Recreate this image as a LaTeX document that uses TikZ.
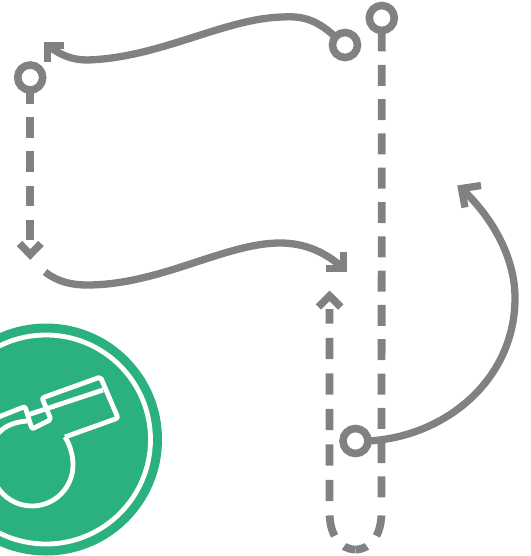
\documentclass[tikz,border=0pt]{standalone}
\definecolor{linegrey}{HTML}{808183}
\definecolor{badge}{HTML}{2BB07F}
\tikzset{
  x=1pt,y=-1pt,
  ringnode/.style={circle,draw=linegrey,line width=7.6pt,minimum size=25pt,inner sep=0pt,outer sep=0pt},
  solidline/.style={draw=linegrey,line width=7.3pt},
  dashline/.style={draw=linegrey,line width=7.8pt},
  headline/.style={draw=linegrey,line width=7.3pt,miter limit=10},
  chevron/.style={draw=linegrey,line width=7.5pt,miter limit=10},
  whistleline/.style={draw=white,line width=4.8pt,line join=round}
}
\begin{document}
\begin{tikzpicture}
\useasboundingbox (0,0) rectangle (530,556);
\clip (0,0) rectangle (530,556);
% badge
\fill[badge] (46,439.5) circle[radius=116];
\draw[white,line width=4.8pt] (46,439.5) circle[radius=104.5];
% whistle
\draw[whistleline,rounded corners=2pt] (-4,418) -- (25,406.5) -- (32,429) -- (51,419.5) -- (42,398) -- (100.5,377) -- (118,418) -- (65,437);
\draw[whistleline] (65,437) .. controls (70,445) and (73,455) .. (73,465)
  arc[start angle=0,end angle=150,radius=41] ;
\draw[whistleline] (-4,436) .. controls (3,427) and (12,422) .. (28,421);
\draw[whistleline] (29,414.5) -- (103,390);
% rings
\node[ringnode] (topright) at (381.8,18) {};
\node[ringnode] (secondring) at (345,45) {};
\node[ringnode] (leftring) at (30.2,77.5) {};
\node[ringnode] (lowring) at (355.5,441) {};
% dashed lines
\coordinate (rightend) at (381.5,498);
\coordinate (leftdown) at (30.2,240);
\coordinate (uptop) at (329.5,309);
\coordinate (lstart) at (329.5,512);
\coordinate (rstart) at (381.5,512);
\coordinate (ubottom) at (355.5,549.5);
\draw[dashline,dash pattern=on 21pt off 13.3pt] (topright.south) -- (rightend);
\draw[dashline,dash pattern=on 20.6pt off 13.4pt,dash phase=6.5pt] (leftring.south) -- (leftdown);
\draw[dashline,dash pattern=on 21.2pt off 14.3pt,dash phase=9.2pt] (ubottom) .. controls (340,549.5) and (329.5,535) .. (lstart) -- (uptop);
\draw[dashline,dash pattern=on 21.2pt off 14.3pt,dash phase=9.2pt] (ubottom) .. controls (371,549.5) and (381.5,535) .. (rstart);
% chevrons
\coordinate (downtip) at (30.2,254.5);
\coordinate (uptip) at (329.5,295.8);
\draw[chevron] (19.5,243.5) -- (downtip) -- (41,243.5);
\draw[chevron] (318.3,307) -- (uptip) -- (340.8,307);
% curved arrows
\coordinate (tipone) at (47.5,45.3);
\coordinate (tiptwo) at (343.5,268.3);
\coordinate (tipthree) at (461.5,188.5);
\coordinate (lowstart) at (45,272);
\draw[solidline] (secondring.140) .. controls (315,18) and (300,16) .. (283,17) .. controls (225,18) and (160,58) .. (87,60) .. controls (72,60) and (60,55) .. (tipone);
\draw[headline] (63.5,45.3) -- (tipone) -- (47.5,62);
\draw[solidline] (lowstart) .. controls (58,282) and (72,285) .. (87,285) .. controls (160,285) and (225,243) .. (280,243) .. controls (305,243) and (325,252) .. (tiptwo);
\draw[headline] (343.5,251.5) -- (tiptwo) -- (326,268.3);
\draw[solidline] (lowring.east) .. controls (445,437) and (515,380) .. (515,298) .. controls (515,260) and (495,220) .. (tipthree);
\draw[headline] (481,185.5) -- (tipthree) -- (465,207.5);
\end{tikzpicture}
\end{document}
